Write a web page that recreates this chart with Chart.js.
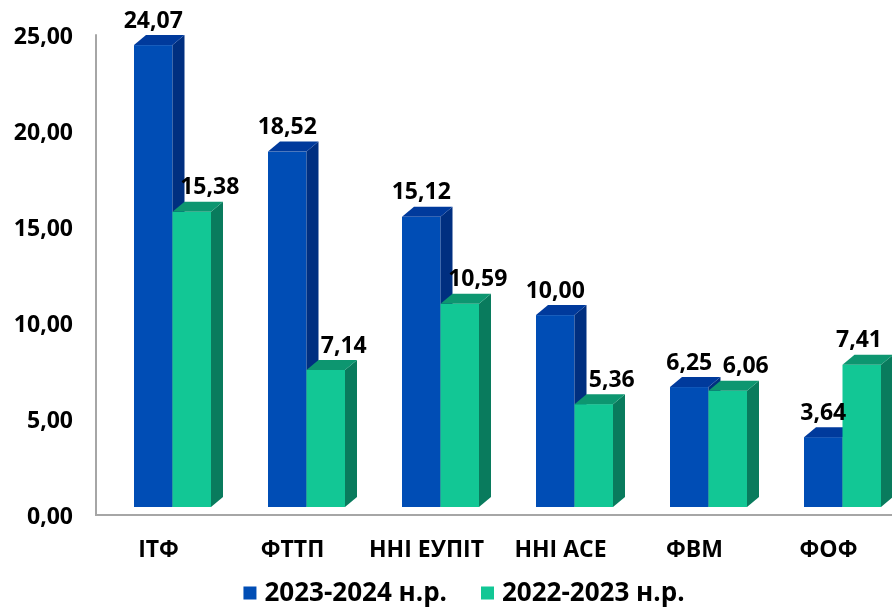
<!DOCTYPE html>
<html>
<head>
<meta charset="utf-8">
<script src="https://cdn.jsdelivr.net/npm/chart.js@4"></script>
<style>
    html, body { margin: 0; padding: 0; background: #ffffff; }
    .chart-box { width: 892px; height: 608px; }
</style>
</head>
<body>
<div class="chart-box"><canvas id="faculty-chart"></canvas></div>
<script>
const facultyLabels = ['ІТФ', 'ФТТП', 'ННІ ЕУПІТ', 'ННІ АСЕ', 'ФВМ', 'ФОФ']
const values2023 = [24.07, 18.52, 15.12, 10.00, 6.25, 3.64]
const values2022 = [15.38, 7.14, 10.59, 5.36, 6.06, 7.41]
const seriesNames = ['2023-2024 н.р.', '2022-2023 н.р.']
const yTicks = [0, 5, 10, 15, 20, 25]

const fontFamily = "'Open Sans', 'DejaVu Sans', sans-serif"

// colors: front, side, top
const barPallets = [
    ['#004db5', '#002f80', '#003a9c'],
    ['#12c795', '#097b5d', '#0d9670']
]

const depthX = 12
const depthY = 10

function formatNumber(value) {
    return Number(value).toFixed(2).replace('.', ',')
}

function drawPolygon(ctx, points, color) {
    ctx.beginPath()
    ctx.moveTo(points[0][0], points[0][1])
    for (let i = 1; i < points.length; i++) {
        ctx.lineTo(points[i][0], points[i][1])
    }
    ctx.closePath()
    ctx.fillStyle = color
    ctx.fill()
}

const bars3d = {
    id: 'bars3d',
    beforeDatasetsDraw(chart) {
        const {ctx, scales: {y}} = chart
        const zeroY = y.getPixelForValue(0)
        const topY = y.getPixelForValue(25)

        ctx.save()

        // axis lines
        ctx.strokeStyle = '#a6a6a6'
        ctx.lineWidth = 2
        ctx.beginPath()
        ctx.moveTo(96, topY + 7)
        ctx.lineTo(96, zeroY + 8)
        ctx.lineTo(chart.width, zeroY + 8)
        ctx.stroke()

        const metas = [chart.getDatasetMeta(0), chart.getDatasetMeta(1)]

        for (let index = 0; index < facultyLabels.length; index++) {
            for (let ds = 0; ds < metas.length; ds++) {
                const bar = metas[ds].data[index]
                const left = bar.x - bar.width / 2
                const right = bar.x + bar.width / 2
                const top = bar.y
                const base = bar.base
                const pallet = barPallets[ds]

                ctx.fillStyle = pallet[0]
                ctx.fillRect(left, top, right - left, base - top)

                drawPolygon(ctx, [[right, top], [right + depthX, top - depthY], [right + depthX, base - depthY], [right, base]], pallet[1])
                drawPolygon(ctx, [[left, top], [left + depthX, top - depthY], [right + depthX, top - depthY], [right, top]], pallet[2])
            }
        }

        // value labels
        ctx.font = 'bold 23px ' + fontFamily
        ctx.fillStyle = '#000000'
        ctx.textAlign = 'center'
        ctx.textBaseline = 'middle'
        for (let ds = 0; ds < metas.length; ds++) {
            const values = ds === 0 ? values2023 : values2022
            metas[ds].data.forEach((bar, index) => {
                const text = formatNumber(values[index])
                const textWidth = ctx.measureText(text).width
                let x = bar.x + (ds === 0 ? 0 : 18)
                x = Math.min(x, chart.width - 10 - textWidth / 2)
                ctx.fillText(text, x, bar.y - 24)
            })
        }

        // legend
        ctx.font = 'bold 26px ' + fontFamily
        ctx.textAlign = 'left'
        const boxSize = 13
        const boxGap = 8
        const itemGap = 34
        const widths = seriesNames.map(name => ctx.measureText(name).width)
        const total = widths.reduce((a, b) => a + b, 0) + seriesNames.length * (boxSize + boxGap) + itemGap
        let cursorX = 464 - total / 2
        const legendY = 593
        seriesNames.forEach((name, i) => {
            ctx.fillStyle = barPallets[i][0]
            ctx.fillRect(cursorX, legendY - boxSize / 2, boxSize, boxSize)
            cursorX += boxSize + boxGap
            ctx.fillStyle = '#000000'
            ctx.fillText(name, cursorX, legendY + 1)
            cursorX += widths[i] + itemGap
        })

        ctx.restore()
        return false
    }
}

const chartConfig = {
    type: 'bar',
    data: {
        labels: facultyLabels,
        datasets: [{
            label: seriesNames[0],
            data: values2023,
            backgroundColor: barPallets[0][0],
            borderWidth: 0
        }, {
            label: seriesNames[1],
            data: values2022,
            backgroundColor: barPallets[1][0],
            borderWidth: 0
        }]
    },
    options: {
        responsive: true,
        maintainAspectRatio: false,
        animation: false,
        barThickness: 38.5,
        layout: {
            padding: {top: 27.25, left: 0, right: 49.5, bottom: 31}
        },
        plugins: {
            legend: {display: false},
            tooltip: {enabled: false}
        },
        scales: {
            x: {
                offset: false,
                grid: {display: false, offset: false, drawTicks: false},
                border: {display: false},
                ticks: {
                    color: '#000000',
                    labelOffset: -14,
                    padding: 30,
                    maxRotation: 0,
                    autoSkip: false,
                    font: {family: fontFamily, size: 23, weight: 'bold'}
                },
                afterFit(scale) {
                    scale.height = 70
                    scale.paddingLeft = 0
                    scale.paddingRight = 0
                }
            },
            y: {
                min: 0,
                max: 25,
                afterBuildTicks(scale) {
                    scale.ticks = yTicks.map(v => ({value: v}))
                },
                grid: {display: false, drawTicks: false},
                border: {display: false},
                ticks: {
                    color: '#000000',
                    padding: 99.5,
                    labelOffset: 10,
                    autoSkip: false,
                    font: {family: fontFamily, size: 23, weight: 'bold'},
                    callback: (value) => formatNumber(value)
                },
                afterFit(scale) {
                    scale.width = 172.5
                    scale.paddingTop = 0
                    scale.paddingBottom = 0
                }
            }
        }
    },
    plugins: [bars3d]
}

const facultyChart = new Chart(
    document.getElementById('faculty-chart'),
    chartConfig
)
</script>
</body>
</html>
